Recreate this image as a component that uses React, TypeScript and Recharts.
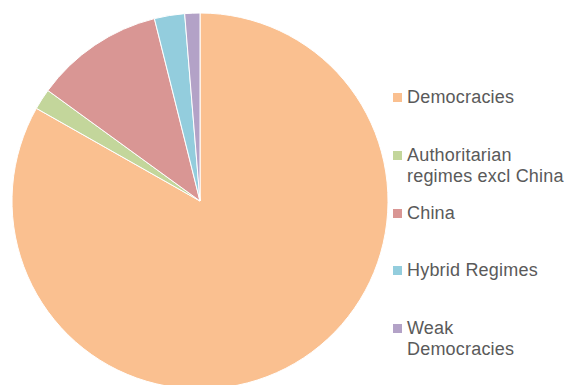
import React from 'react';
import { PieChart, Pie, Cell, Legend } from 'recharts';

const categories = ['Democracies', 'Authoritarian regimes excl China', 'China', 'Hybrid Regimes', 'Weak Democracies'];
const legendLabels = ['Democracies', 'Authoritarian\nregimes excl China', 'China', 'Hybrid Regimes', 'Weak\nDemocracies'];
const shares = [83.2, 1.8, 11.1, 2.6, 1.3];
const colors = ['#FAC090', '#C3D69B', '#D99694', '#93CDDD', '#B3A2C7'];

const data = categories.map((name, i) => ({ name, value: shares[i] }));

const renderLegend = () => (
    <div style={{ fontFamily: '"Liberation Sans", Arial, sans-serif', fontSize: 18, color: '#5a5a5a' }}>
        {legendLabels.map((label, i) => (
            <div key={label} style={{ height: 57.8, display: 'flex', alignItems: 'flex-start' }}>
                <span
                    style={{
                        width: 9,
                        height: 9,
                        marginTop: 6,
                        marginRight: 5,
                        backgroundColor: colors[i],
                        flex: 'none',
                    }}
                />
                <span style={{ whiteSpace: 'pre', lineHeight: '21px', letterSpacing: 0.2 }}>{label}</span>
            </div>
        ))}
    </div>
);

export default function App() {
    return (
        <div style={{ position: 'absolute', left: 0, top: 0, width: 564, height: 385, background: '#fff' }}>
            <PieChart width={564} height={385} margin={{ top: 0, right: 0, bottom: 0, left: 0 }}>
                <Pie
                    data={data}
                    dataKey="value"
                    nameKey="name"
                    cx={200}
                    cy={201}
                    outerRadius={188}
                    startAngle={90}
                    endAngle={-270}
                    stroke="#ffffff"
                    strokeWidth={1}
                    isAnimationActive={false}
                >
                    {data.map((entry, index) => (
                        <Cell key={`cell-${index}`} fill={colors[index]} />
                    ))}
                </Pie>
                <Legend
                    content={renderLegend}
                    layout="vertical"
                    wrapperStyle={{ position: 'absolute', left: 393, top: 87, width: 171 }}
                />
            </PieChart>
        </div>
    );
}
